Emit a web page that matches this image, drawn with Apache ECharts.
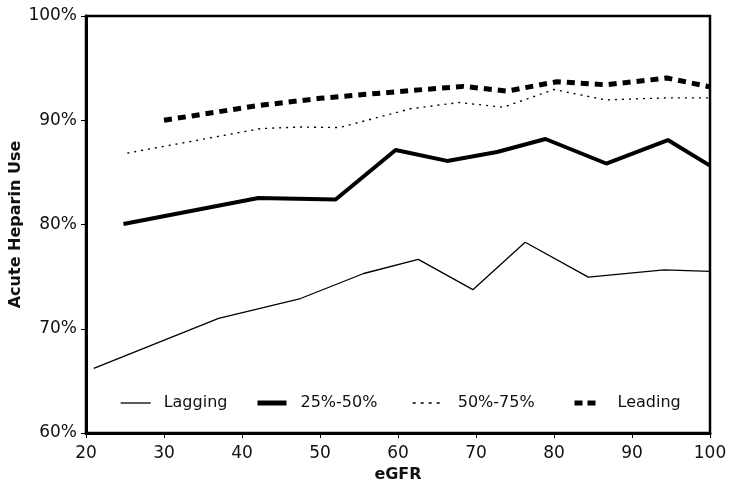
<!DOCTYPE html>
<html><head><meta charset="utf-8">
<script src="https://cdn.jsdelivr.net/npm/echarts@6/dist/echarts.min.js"></script>
<style>html,body{margin:0;padding:0;background:#fff}#c{width:731px;height:491px}</style>
</head><body><div id="c"></div>
<script>
const seriesNames = ['Lagging', '25%-50%', '50%-75%', 'Leading'];
const laggingX = [21, 37, 47.5, 55.6, 62.6, 69.6, 76.3, 84.4, 94.1, 100];
const laggingY = [66.2, 71.0, 72.9, 75.3, 76.65, 73.75, 78.3, 74.95, 75.65, 75.5];
const q2550X = [24.8, 42.1, 52.0, 59.7, 66.3, 72.7, 78.9, 86.7, 94.6, 100];
const q2550Y = [80.05, 82.55, 82.4, 87.15, 86.1, 86.95, 88.2, 85.85, 88.1, 85.65];
const q5075X = [25.3, 42.4, 47.5, 52.5, 61.6, 67.8, 73.5, 80.0, 86.6, 94.5, 100];
const q5075Y = [86.85, 89.2, 89.35, 89.3, 91.1, 91.7, 91.25, 92.95, 91.95, 92.15, 92.15];
const leadingX = [30, 42, 50, 61.6, 68.4, 74.0, 80.4, 86.6, 94.5, 100];
const leadingY = [90.0, 91.4, 92.1, 92.85, 93.25, 92.8, 93.7, 93.4, 94.05, 93.2];
const xTicks = [20, 30, 40, 50, 60, 70, 80, 90, 100];
const yTicks = [60, 70, 80, 90, 100];

const pairs = (xs, ys) => xs.map((x, i) => [x, ys[i]]);
const FONT = 'DejaVu Sans';
const chart = echarts.init(document.getElementById('c'), null, {renderer: 'canvas'});
const styles = [
  {width: 1.3, type: 'solid'},
  {width: 4, type: 'solid'},
  {width: 1.4, type: [2, 5]},
  {width: 5, type: [8, 6]}
];
const legendStyles = [
  {width: 1.3, type: 'solid'},
  {width: 5, type: 'solid'},
  {width: 1.4, type: [3, 5]},
  {width: 5, type: [8, 5, 8, 9]}
];
const datas = [pairs(laggingX, laggingY), pairs(q2550X, q2550Y), pairs(q5075X, q5075Y), pairs(leadingX, leadingY)];
const legendIconStart = [120, 255, 412, 572];
const legendIconWidth = [30, 29, 31, 30];
const legendPad = [8, 9, 9, 8];
chart.setOption({
  animation: false,
  backgroundColor: '#fff',
  grid: {left: 86, right: 21, top: 16, bottom: 58, outerBoundsMode: 'none', containLabel: false,
         show: true, borderColor: '#000', borderWidth: 2.5, backgroundColor: 'transparent'},
  legend: seriesNames.map((n, i) => ({
    data: [n], left: legendIconStart[i] - 5, top: 390, itemWidth: legendIconWidth[i], itemHeight: 14, itemGap: 10,
    itemStyle: {color: 'rgba(0,0,0,0)', borderColor: 'rgba(0,0,0,0)', borderWidth: 0, opacity: 0},
    lineStyle: {color: '#000', width: legendStyles[i].width, type: legendStyles[i].type, cap: 'butt'},
    textStyle: {fontFamily: FONT, fontSize: 16, color: '#111', padding: [0, 0, 0, legendPad[i]]}
  })),
  xAxis: {
    type: 'value', min: xTicks[0], max: xTicks[xTicks.length - 1], interval: 10,
    name: 'eGFR', nameLocation: 'middle', nameGap: 31,
    nameTextStyle: {fontFamily: FONT, fontSize: 16, fontWeight: 'bold', color: '#111'},
    axisLine: {lineStyle: {color: '#000', width: 3}},
    axisTick: {show: true, length: 5, lineStyle: {color: '#000', width: 1}},
    axisLabel: {fontFamily: FONT, fontSize: 17, color: '#111', margin: 12},
    splitLine: {show: false}
  },
  yAxis: {
    type: 'value', min: yTicks[0], max: yTicks[yTicks.length - 1], interval: 10,
    name: 'Acute Heparin Use', nameLocation: 'middle', nameGap: 62, nameMoveOverlap: false,
    nameTextStyle: {fontFamily: FONT, fontSize: 16, fontWeight: 'bold', color: '#111'},
    axisLine: {show: true, lineStyle: {color: '#000', width: 3}},
    axisTick: {show: true, length: 5, lineStyle: {color: '#000', width: 1}},
    axisLabel: {fontFamily: FONT, fontSize: 17, color: '#111', margin: 9, formatter: v => v + '%'},
    splitLine: {show: false}
  },
  series: seriesNames.map((n, i) => ({
    name: n, type: 'line', data: datas[i], symbol: 'none', smooth: false,
    lineStyle: {color: '#000', width: styles[i].width, type: styles[i].type, cap: 'butt'},
    itemStyle: {color: '#000'}
  }))
});
</script></body></html>
